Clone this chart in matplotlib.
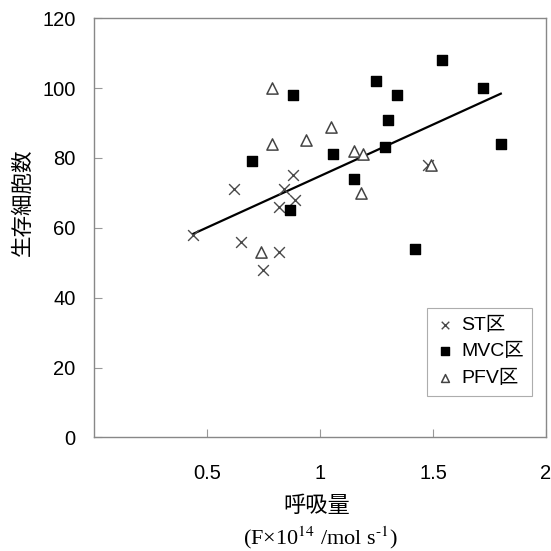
import numpy as np
import matplotlib
matplotlib.use('Agg')
import matplotlib.pyplot as plt

plt.rcParams['font.family'] = ['Liberation Sans', 'Noto Sans CJK JP']
plt.rcParams['mathtext.fontset'] = 'stix'

# dati
st_x = [0.44, 0.62, 0.65, 0.75, 0.82, 0.82, 0.84, 0.88, 0.89, 1.48]
st_y = [58, 71, 56, 48, 53, 66, 71, 75, 68, 78]

mvc_x = [0.70, 0.87, 0.88, 1.06, 1.15, 1.25, 1.29, 1.30, 1.34, 1.42, 1.54, 1.72, 1.80]
mvc_y = [79, 65, 98, 81, 74, 102, 83, 91, 98, 54, 108, 100, 84]

pfv_x = [0.74, 0.79, 0.79, 0.94, 1.05, 1.15, 1.19, 1.18, 1.49]
pfv_y = [53, 84, 100, 85, 89, 82, 81, 70, 78]

# retta di tendenza
trend_k = 29.5
trend_q = 45.3

x_ticks = [0.5, 1, 1.5, 2]
y_ticks = [0, 20, 40, 60, 80, 100, 120]

fig = plt.figure(figsize=(5.51, 5.51), dpi=100)
ax = fig.add_axes([0.170, 0.206, 0.821, 0.761])

ax.scatter(st_x, st_y, marker='x', s=60, color='#4a4a4a', linewidths=1.0, label='ST区', zorder=3)
ax.scatter(mvc_x, mvc_y, marker='s', s=55, color='black', label='MVC区', zorder=3)
ax.scatter(pfv_x, pfv_y, marker='^', s=65, facecolors='white', edgecolors='#444444',
           linewidths=1.1, label='PFV区', zorder=3)

all_x = np.array(st_x + mvc_x + pfv_x)
xl = np.array([all_x.min(), all_x.max()])
ax.plot(xl, trend_k * xl + trend_q, color='black', linewidth=1.6, zorder=2)

ax.set_xlim(0, 2)
ax.set_ylim(0, 120)
ax.set_xticks(x_ticks)
ax.set_xticklabels(['0.5', '1', '1.5', '2'])
ax.set_yticks(y_ticks)
ax.tick_params(axis='both', direction='in', labelsize=14.5, length=6, color='#999999', width=0.8)
ax.tick_params(axis='x', pad=19)
ax.tick_params(axis='y', pad=13)
for s in ax.spines.values():
    s.set_color('#888888')
    s.set_linewidth(1.0)

ax.set_ylabel('生存細胞数', fontsize=15.5, family=['Noto Sans CJK JP'])
ax.yaxis.set_label_coords(-0.133, 0.56)
fig.text(0.575, 0.082, '呼吸量', fontsize=16, family=['Noto Sans CJK JP'], ha='center', va='center')
fig.text(0.582, 0.024, r'(F×10$^{14}$ /mol s$^{\text{-}1}$)', fontsize=16,
         family=['Liberation Serif'], ha='center', va='center')

leg = ax.legend(loc='lower right', bbox_to_anchor=(0.97, 0.10), fontsize=14, frameon=True,
                fancybox=False, edgecolor='#999999', handlelength=1.0, handletextpad=0.3,
                borderpad=0.45, labelspacing=0.45, markerscale=0.7, borderaxespad=0)
leg.get_frame().set_linewidth(0.8)

plt.savefig('out.png', dpi=100)
